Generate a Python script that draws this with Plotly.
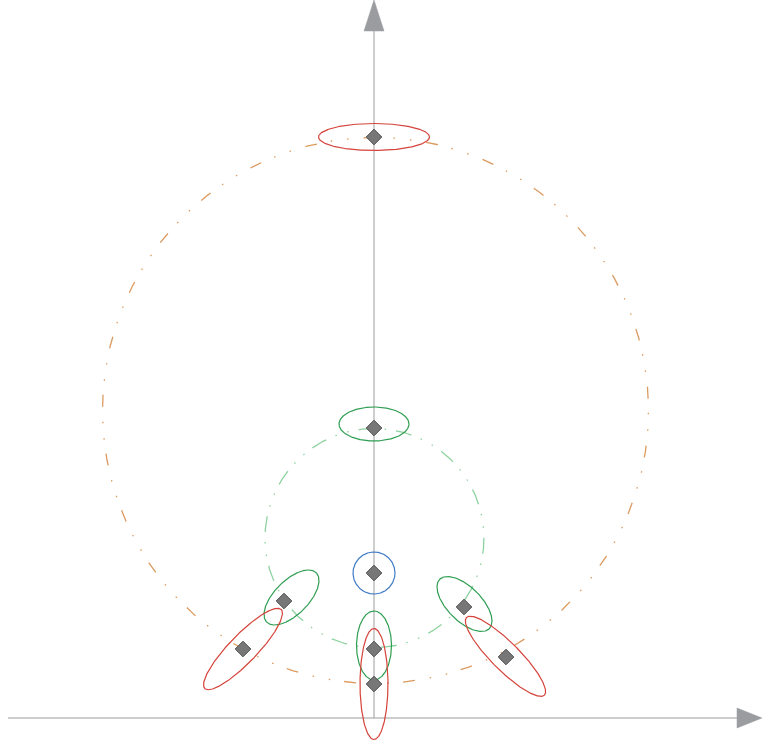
import numpy as np
import plotly.graph_objects as go

# Canvas units: one unit per pixel, origin where the two axes cross.
X_RANGE = [-374, 388]
Y_RANGE = [-26, 718]

# Axis extents (line start, line end / arrow base, arrow tip) and arrow half-width
x_axis = [-366, 363, 388]
y_axis = [0, 687, 718]
arrow_half = 10

# Reference circles: centre x, centre y, radius
circle_cx = [1.5, 0.5]
circle_cy = [307.5, 180]
circle_r = [273, 109.5]
circle_color = ["#dc9a5e", "#8ed2a0"]
circle_dash = ["12px,15px,1.5px,15px,1.5px,14px", "16px,10px,1.5px,11px,1.5px,10px"]

# Sample points
point_x = [0, 0, 0, -90, 90, -131, 132, 0, 0]
point_y = [581, 290, 145, 117, 111, 69, 61, 69, 34]

# Uncertainty ellipses: centre, semi-axis along the angle, semi-axis across, angle (deg)
ell_cx = [0, 0, 0, -82.5, 90.5, -131, 131.5, 0, 0]
ell_cy = [581, 294, 145, 120.5, 114, 69, 61.7, 72.5, 34]
ell_a = [55.5, 35, 21, 35, 35, 55, 55, 34.5, 55.5]
ell_b = [13.5, 17, 21, 17, 17, 14, 14, 17.5, 14]
ell_angle = [0, 0, 0, 45, -45, 46, -45, 90, 90]
ell_color = ["#d5433b", "#2f9e52", "#3f7ac6", "#2f9e52", "#2f9e52",
             "#d5433b", "#d5433b", "#2f9e52", "#d5433b"]

AXIS_LINE = "#9c9c9c"
AXIS_ARROW = "#9b9ca0"

fig = go.Figure()

# Axes
fig.add_trace(go.Scatter(x=[x_axis[0], x_axis[1]], y=[0, 0], mode="lines",
                         line=dict(color=AXIS_LINE, width=1), hoverinfo="skip"))
fig.add_trace(go.Scatter(x=[0, 0], y=[y_axis[0], y_axis[1]], mode="lines",
                         line=dict(color=AXIS_LINE, width=1), hoverinfo="skip"))
fig.add_trace(go.Scatter(x=[x_axis[1], x_axis[2], x_axis[1], x_axis[1]],
                         y=[arrow_half, 0, -arrow_half, arrow_half],
                         mode="lines", fill="toself", fillcolor=AXIS_ARROW,
                         line=dict(color=AXIS_ARROW, width=0.5), hoverinfo="skip"))
fig.add_trace(go.Scatter(x=[-arrow_half, 0, arrow_half, -arrow_half],
                         y=[y_axis[1], y_axis[2], y_axis[1], y_axis[1]],
                         mode="lines", fill="toself", fillcolor=AXIS_ARROW,
                         line=dict(color=AXIS_ARROW, width=0.5), hoverinfo="skip"))

t = np.linspace(0, 2 * np.pi, 721)

# Dash-dot reference circles
for cx, cy, r, col, dash in zip(circle_cx, circle_cy, circle_r, circle_color, circle_dash):
    fig.add_trace(go.Scatter(x=cx + r * np.cos(t + np.pi / 2), y=cy + r * np.sin(t + np.pi / 2),
                             mode="lines", line=dict(color=col, width=1.3, dash=dash),
                             hoverinfo="skip"))

# Ellipses
for cx, cy, a, b, ang, col in zip(ell_cx, ell_cy, ell_a, ell_b, ell_angle, ell_color):
    th = np.deg2rad(ang)
    ex = a * np.cos(t)
    ey = b * np.sin(t)
    xs = cx + ex * np.cos(th) - ey * np.sin(th)
    ys = cy + ex * np.sin(th) + ey * np.cos(th)
    fig.add_trace(go.Scatter(x=xs, y=ys, mode="lines",
                             line=dict(color=col, width=1.2), hoverinfo="skip"))

# Points
fig.add_trace(go.Scatter(x=point_x, y=point_y, mode="markers",
                         marker=dict(symbol="diamond", size=12, color="#777777",
                                     line=dict(color="#4f4f4f", width=1)),
                         hoverinfo="skip"))

fig.update_layout(
    width=762, height=744, autosize=False,
    margin=dict(l=0, r=0, t=0, b=0),
    paper_bgcolor="white", plot_bgcolor="white",
    showlegend=False,
    xaxis=dict(range=X_RANGE, visible=False, fixedrange=True),
    yaxis=dict(range=Y_RANGE, visible=False, fixedrange=True),
)

fig.write_html("out.html")
